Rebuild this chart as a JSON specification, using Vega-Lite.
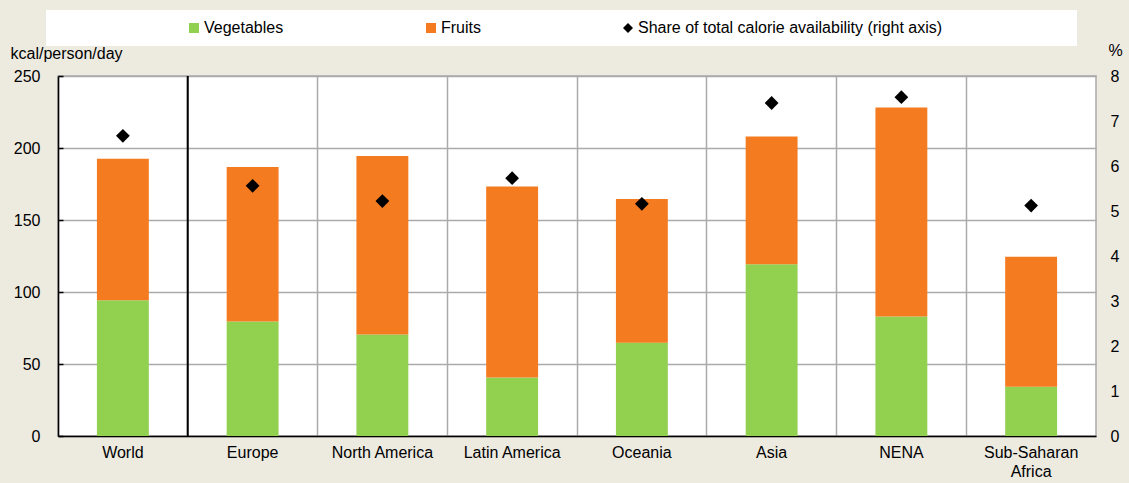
{
  "$schema": "https://vega.github.io/schema/vega-lite/v6.json",
  "width": 1038,
  "height": 360,
  "autosize": {"type": "none"},
  "padding": {"left": 58, "top": 76, "right": 33, "bottom": 47},
  "background": "#EDEAE0",
  "config": {
    "font": "Liberation Sans",
    "view": {"stroke": "#AAAAAA", "strokeWidth": 1.5, "fill": "#FFFFFF"},
    "axis": {"labelFont": "Liberation Sans", "labelFontSize": 16, "labelColor": "#000000", "titleFont": "Liberation Sans", "titleFontSize": 16, "titleColor": "#000000", "titleFontWeight": "normal"}
  },
  "datasets": {
    "bars": [
      {"region": "World", "series": "Vegetables", "kcal": 94.2},
      {"region": "World", "series": "Fruits", "kcal": 98.3},
      {"region": "Europe", "series": "Vegetables", "kcal": 79.5},
      {"region": "Europe", "series": "Fruits", "kcal": 107.3},
      {"region": "North America", "series": "Vegetables", "kcal": 70.5},
      {"region": "North America", "series": "Fruits", "kcal": 123.9},
      {"region": "Latin America", "series": "Vegetables", "kcal": 40.7},
      {"region": "Latin America", "series": "Fruits", "kcal": 132.6},
      {"region": "Oceania", "series": "Vegetables", "kcal": 64.7},
      {"region": "Oceania", "series": "Fruits", "kcal": 99.9},
      {"region": "Asia", "series": "Vegetables", "kcal": 119.3},
      {"region": "Asia", "series": "Fruits", "kcal": 88.7},
      {"region": "NENA", "series": "Vegetables", "kcal": 83.0},
      {"region": "NENA", "series": "Fruits", "kcal": 145.2},
      {"region": "Sub-Saharan Africa", "series": "Vegetables", "kcal": 34.2},
      {"region": "Sub-Saharan Africa", "series": "Fruits", "kcal": 90.2}
    ],
    "share": [
      {"region": "World", "series": "Share of total calorie availability (right axis)", "share": 6.67},
      {"region": "Europe", "series": "Share of total calorie availability (right axis)", "share": 5.56},
      {"region": "North America", "series": "Share of total calorie availability (right axis)", "share": 5.22},
      {"region": "Latin America", "series": "Share of total calorie availability (right axis)", "share": 5.73},
      {"region": "Oceania", "series": "Share of total calorie availability (right axis)", "share": 5.16},
      {"region": "Asia", "series": "Share of total calorie availability (right axis)", "share": 7.4},
      {"region": "NENA", "series": "Share of total calorie availability (right axis)", "share": 7.53},
      {"region": "Sub-Saharan Africa", "series": "Share of total calorie availability (right axis)", "share": 5.12}
    ],
    "divider": [{"region": "Europe"}]
  },
  "layer": [
    {
      "data": {"name": "bars"},
      "mark": {"type": "bar", "width": {"band": 0.4}},
      "encoding": {
        "x": {
          "field": "region", "type": "nominal",
          "scale": {"domain": ["World", "Europe", "North America", "Latin America", "Oceania", "Asia", "NENA", "Sub-Saharan Africa"], "paddingInner": 0, "paddingOuter": 0},
          "axis": {"title": null, "labelAngle": 0, "grid": true, "gridColor": "#AAAAAA", "gridWidth": 1.5, "bandPosition": 0, "ticks": false, "domainColor": "#000000", "domainWidth": 1.5, "labelPadding": 8, "labelBaseline": "top", "labelLineHeight": 19,
            "labelExpr": "datum.label == 'Sub-Saharan Africa' ? ['Sub-Saharan', 'Africa'] : datum.label"}
        },
        "y": {
          "field": "kcal", "type": "quantitative", "stack": "zero",
          "scale": {"domain": [0, 250], "nice": false},
          "axis": {"title": "kcal/person/day", "orient": "left", "values": [0, 50, 100, 150, 200, 250], "grid": true, "gridColor": "#AAAAAA", "gridWidth": 1.5, "domainColor": "#000000", "domainWidth": 1.5, "ticks": true, "tickColor": "#000000", "tickSize": -5, "tickWidth": 1.5, "labelPadding": 23,
            "titleAngle": 0, "titleX": -48, "titleY": -23, "titleAlign": "left", "titleBaseline": "middle"}
        },
        "color": {
          "field": "series", "type": "nominal",
          "scale": {"domain": ["Vegetables", "Fruits", "Share of total calorie availability (right axis)"], "range": ["#92D050", "#F47B20", "#000000"]},
          "legend": {
            "orient": "none", "legendX": -12, "legendY": -66, "direction": "horizontal",
            "title": " ", "titleOrient": "left", "titleFontSize": 1, "titlePadding": 130,
            "fillColor": "#FFFFFF", "padding": 10, "columnPadding": 139,
            "symbolSize": 100, "symbolStrokeWidth": 0, "symbolOpacity": 1,
            "labelFont": "Liberation Sans", "labelFontSize": 16, "labelColor": "#000000", "labelOffset": 2, "labelLimit": 900,
            "labelExpr": "datum.label == 'Share of total calorie availability (right axis)' ? datum.label + '                            \u200b' : datum.label",
            "encode": {"symbols": {"update": {"shape": {"signal": "datum.value == 'Share of total calorie availability (right axis)' ? 'diamond' : 'square'"}}}}
          }
        },
        "order": {"field": "series", "sort": "descending"}
      }
    },
    {
      "data": {"name": "divider"},
      "mark": {"type": "rule", "color": "#000000", "strokeWidth": 2},
      "encoding": {
        "x": {"field": "region", "type": "nominal", "bandPosition": 0}
      }
    },
    {
      "data": {"name": "share"},
      "mark": {"type": "point", "shape": "diamond", "filled": true, "size": 190, "opacity": 1},
      "encoding": {
        "x": {"field": "region", "type": "nominal"},
        "y": {
          "field": "share", "type": "quantitative",
          "scale": {"domain": [0, 8], "nice": false},
          "axis": {"title": "%", "orient": "right", "values": [0, 1, 2, 3, 4, 5, 6, 7, 8], "grid": false, "domain": false, "ticks": false, "labelPadding": 14,
            "titleAngle": 0, "titleX": 12, "titleY": -26, "titleAlign": "left", "titleBaseline": "middle"}
        },
        "color": {"field": "series", "type": "nominal"}
      }
    }
  ],
  "resolve": {"scale": {"y": "independent"}}
}
